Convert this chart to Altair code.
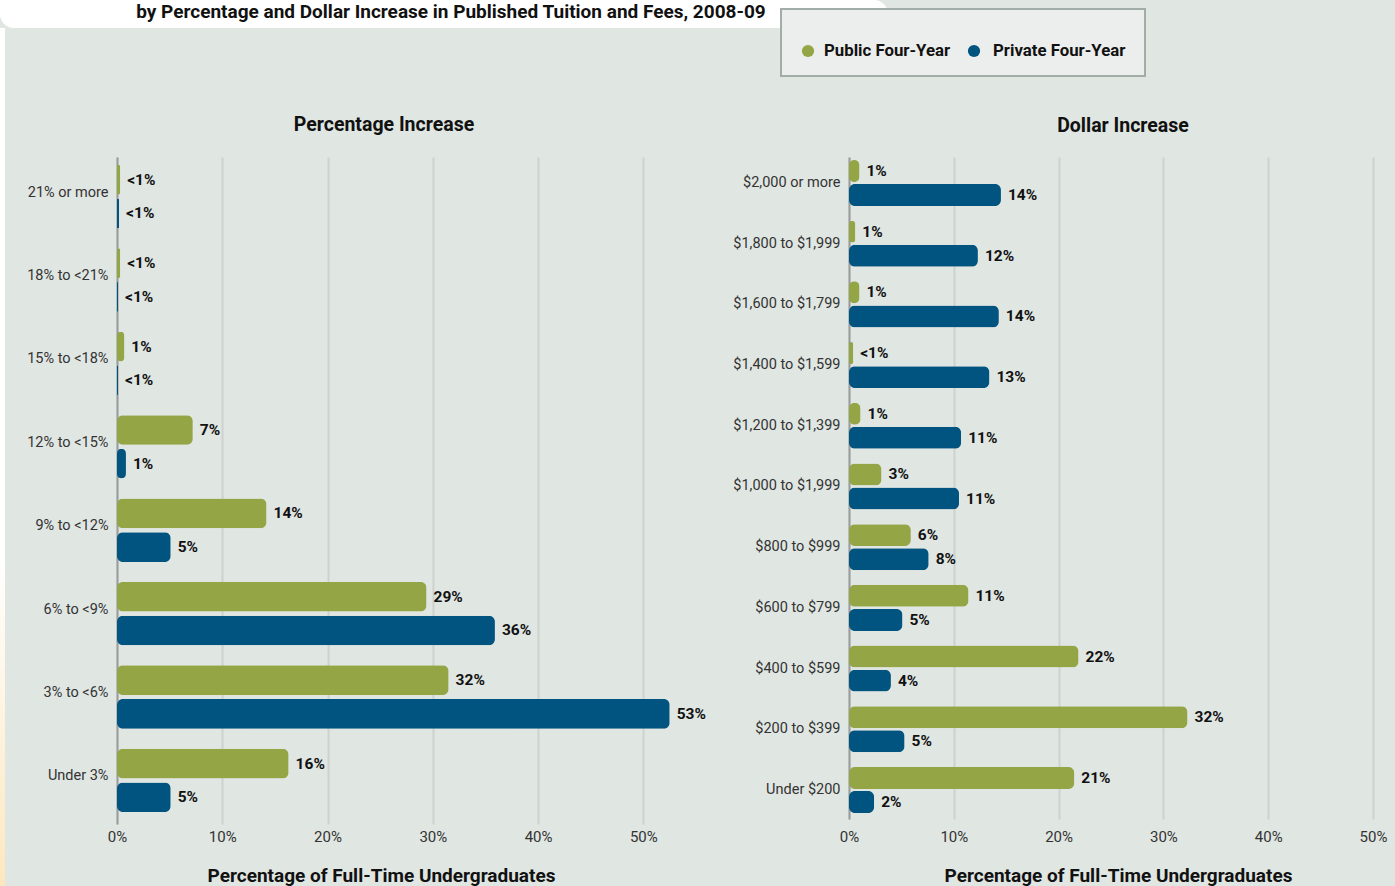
import altair as alt
import pandas as pd

# ---------------- data ----------------
series = ["Public Four-Year", "Private Four-Year"]
colors = ["#94a545", "#00547f"]
x_ticks = [0, 10, 20, 30, 40, 50]

pct_cats = ["21% or more", "18% to <21%", "15% to <18%", "12% to <15%",
            "9% to <12%", "6% to <9%", "3% to <6%", "Under 3%"]
pct_public = [0.3, 0.3, 0.7, 7.2, 14.2, 29.4, 31.5, 16.3]
pct_private = [0.2, 0.1, 0.1, 0.85, 5.1, 35.9, 52.5, 5.1]
pct_public_lbl = ["<1%", "<1%", "1%", "7%", "14%", "29%", "32%", "16%"]
pct_private_lbl = ["<1%", "<1%", "<1%", "1%", "5%", "36%", "53%", "5%"]

dol_cats = ["$2,000 or more", "$1,800 to $1,999", "$1,600 to $1,799", "$1,400 to $1,599",
            "$1,200 to $1,399", "$1,000 to $1,999", "$800 to $999", "$600 to $799",
            "$400 to $599", "$200 to $399", "Under $200"]
dol_public = [1.0, 0.6, 1.0, 0.4, 1.1, 3.1, 5.9, 11.4, 21.9, 32.3, 21.5]
dol_private = [14.5, 12.3, 14.3, 13.4, 10.7, 10.5, 7.6, 5.1, 4.0, 5.3, 2.4]
dol_public_lbl = ["1%", "1%", "1%", "<1%", "1%", "3%", "6%", "11%", "22%", "32%", "21%"]
dol_private_lbl = ["14%", "12%", "14%", "13%", "11%", "11%", "8%", "5%", "4%", "5%", "2%"]

title_text = "by Percentage and Dollar Increase in Published Tuition and Fees, 2008-09"
x_title = "Percentage of Full-Time Undergraduates"

FONT = "Roboto, Liberation Sans, sans-serif"
BG = "#e0e6e2"


def make_df(cats, pub, priv, publ, privl):
    rows = []
    for c, a, b, la, lb in zip(cats, pub, priv, publ, privl):
        rows.append({"cat": c, "series": series[0], "value": a, "label": la})
        rows.append({"cat": c, "series": series[1], "value": b, "label": lb})
    return pd.DataFrame(rows)


one = pd.DataFrame({"d": [0]})


def deco_rect(x, x2, y, y2, **kw):
    return alt.Chart(one).mark_rect(**kw).encode(
        x=alt.value(x), x2=alt.value(x2), y=alt.value(y), y2=alt.value(y2))


def deco_text(text, x, y, **kw):
    return alt.Chart(one).mark_text(text=text, font=FONT, **kw).encode(
        x=alt.value(x), y=alt.value(y))


def panel(df, cats, xmax, pinner, pouter, align, offpad, label_pad, title_x, title_y,
          ptitle, ptitle_x, ptitle_y, ylab_off):
    base = alt.Chart(df).encode(
        y=alt.Y("cat:N", sort=cats, title=None,
                scale=alt.Scale(paddingInner=pinner, paddingOuter=pouter, align=align),
                axis=alt.Axis(domain=True, domainColor="#9a9c9b", domainWidth=2, ticks=False,
                              grid=False, labelPadding=9, labelFont=FONT, labelFontSize=14.5,
                              labelColor="#333333", labelLimit=300, labelOffset=ylab_off)),
        yOffset=alt.YOffset("series:N", sort=series,
                            scale=alt.Scale(paddingInner=offpad, paddingOuter=0)),
        x=alt.X("value:Q", scale=alt.Scale(domain=[0, xmax], nice=False, zero=True),
                axis=alt.Axis(values=x_ticks, labelExpr="datum.value + '%'", domain=False,
                              ticks=False, grid=True, gridColor="#cdd2cf", gridWidth=2,
                              labelFlush=False, labelOverlap=False,
                              labelPadding=label_pad, labelFont=FONT, labelFontSize=15,
                              labelColor="#333333", title=x_title, titleFont=FONT,
                              titleFontSize=19, titleFontWeight="bold", titleColor="#111111",
                              titleX=title_x, titleY=title_y, titleBaseline="middle",
                              titleAlign="center")),
    )
    bars = base.mark_bar(cornerRadius=6).encode(
        color=alt.Color("series:N", scale=alt.Scale(domain=series, range=colors), legend=None))
    labels = base.mark_text(align="left", baseline="middle", dx=7, font=FONT,
                            fontWeight="bold", fontSize=15.5, color="#111111").encode(
        text="label:N")
    ptitle_mark = deco_text(ptitle, ptitle_x, ptitle_y, align="center", baseline="middle",
                            fontSize=19.5, fontWeight="bold", color="#111111")
    return bars, labels, ptitle_mark


pct_df = make_df(pct_cats, pct_public, pct_private, pct_public_lbl, pct_private_lbl)
dol_df = make_df(dol_cats, dol_public, dol_private, dol_public_lbl, dol_private_lbl)

LW, LH = 579, 667
RW, RH = 546, 662

lb, ll, lt = panel(pct_df, pct_cats, 55.0, 0.24, 0.119, 0.4, 0.12, 5, 264, 51,
                   "Percentage Increase", 267, -32, -4)
rb, rl, rt = panel(dol_df, dol_cats, 52.1, 0.242, 0.074, 0.33, 0.09, 10, 269, 56,
                   "Dollar Increase", 274, -31, 0)

# header decorations (positioned relative to left plot origin at 117,157)
banner = deco_rect(-117, 771, -157, -129, fill="white", cornerRadius=20)
banner_sq = deco_rect(-117, 700, -157, -140, fill="white")
strip = deco_rect(-117, -112, -129, 729,
                  fill=alt.LinearGradient(gradient="linear", x1=0, x2=0, y1=0, y2=1,
                                          stops=[alt.GradientStop(color="#ffffff", offset=0),
                                                 alt.GradientStop(color="#ffffff", offset=0.62),
                                                 alt.GradientStop(color="#fde7bf", offset=1)]))
title = deco_text(title_text, 334, -145, align="center", baseline="middle", fontSize=19,
                  fontWeight="bold", color="#111111")

left = alt.layer(banner, banner_sq, strip, title, lb, ll, lt).properties(width=LW, height=LH)

# legend box (relative to right plot origin at 849,157)
leg_box = deco_rect(-68, 296, -148, -81, fill="#eceeed", stroke="#a3ada8", strokeWidth=2)
leg_c1 = alt.Chart(one).mark_point(filled=True, size=150, opacity=1, color=colors[0]).encode(
    x=alt.value(-41), y=alt.value(-106))
leg_c2 = alt.Chart(one).mark_point(filled=True, size=150, opacity=1, color=colors[1]).encode(
    x=alt.value(125), y=alt.value(-106))
leg_t1 = deco_text(series[0], -25, -106, align="left", baseline="middle", fontSize=16.8,
                   fontWeight="bold", color="#111111")
leg_t2 = deco_text(series[1], 144, -106, align="left", baseline="middle", fontSize=16.8,
                   fontWeight="bold", color="#111111")

right = alt.layer(leg_box, leg_c1, leg_c2, leg_t1, leg_t2, rb, rl, rt).properties(
    width=RW, height=RH)

chart = alt.hconcat(left, right, spacing=153, bounds="flush").resolve_scale(
    y="independent", yOffset="independent", x="independent"
).properties(
    padding=0, background=BG
).configure_view(stroke=None)

chart.save("out.html", embed_options={"renderer": "svg", "actions": False})
